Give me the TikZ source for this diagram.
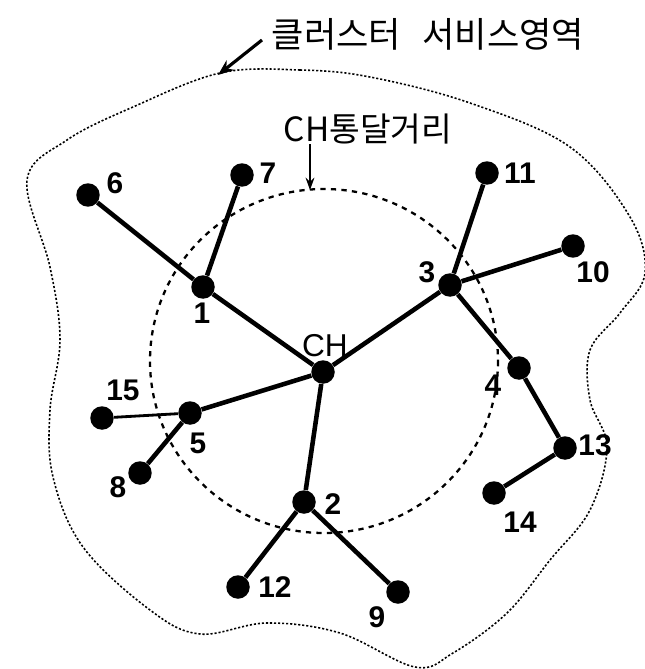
\documentclass[tikz,border=0pt]{standalone}
\usepackage{fontspec}
\setmainfont{Liberation Sans}
\newfontfamily\krfont{Noto Sans CJK KR}
\usetikzlibrary{arrows.meta}

\begin{document}
\begin{tikzpicture}[
    x=0.02cm, y=-0.02cm,
    every node/.style={font=\fontsize{17}{20}\selectfont\bfseries},
    dot/.style={circle, fill=black, inner sep=0pt, minimum size=0.47cm},
    numlbl/.style={inner sep=0pt},
    link/.style={line width=2.6pt},
    krtext/.style={inner sep=0pt, font=\krfont\fontsize{19}{22}\selectfont}
]
    \useasboundingbox (0,0) rectangle (645,669);

    % Cluster service area (irregular dotted boundary)
    \draw[line width=0.9pt, dash pattern=on 1.2pt off 1.1pt] plot[smooth cycle, tension=0.6] coordinates {
        (220,73) (300,70) (370,77) (470,103) (570,147) (630,217) (645,273)
        (620,313) (590,350) (590,400) (607,447) (590,510) (550,560) (507,613)
        (453,653) (415,667) (340,633) (267,623) (200,634) (150,610) (83,547)
        (53,477) (50,410) (60,340) (50,267) (27,180) (67,140) (133,107)};

    % CH transmission range (dashed circle)
    \draw[line width=1.3pt, dash pattern=on 3pt off 3pt] (324,361) ellipse (174 and 172);

    % Cluster head and members
    \node[dot] (ch) at (323,372) {};
    \node[dot] (n1) at (203,287) {};
    \node[dot] (n2) at (304,502) {};
    \node[dot] (n3) at (450,285) {};
    \node[dot] (n4) at (519,368) {};
    \node[dot] (n5) at (190,413) {};
    \node[dot] (n6) at (88,195) {};
    \node[dot] (n7) at (242,175) {};
    \node[dot] (n8) at (140,473) {};
    \node[dot] (n9) at (398,592) {};
    \node[dot] (n10) at (573,246) {};
    \node[dot] (n11) at (487,173) {};
    \node[dot] (n12) at (238,587) {};
    \node[dot] (n13) at (565,448) {};
    \node[dot] (n14) at (494,493) {};
    \node[dot] (n15) at (102,418) {};

    % Links
    \draw[link] (ch) -- (n1);
    \draw[link] (n1) -- (n6);
    \draw[link] (n1) -- (n7);
    \draw[link] (ch) -- (n3);
    \draw[link] (n3) -- (n11);
    \draw[link] (n3) -- (n10);
    \draw[link] (n3) -- (n4);
    \draw[link] (n4) -- (n13);
    \draw[link] (n13) -- (n14);
    \draw[link] (ch) -- (n5);
    \draw[line width=1.6pt] (n5) -- (n15);
    \draw[link] (n5) -- (n8);
    \draw[link] (ch) -- (n2);
    \draw[link] (n2) -- (n12);
    \draw[link] (n2) -- (n9);

    % Node labels
    \node[numlbl, font=\fontsize{18}{21}\selectfont] (lch) at (325,346) {CH};
    \node[numlbl] (l1) at (202,313) {1};
    \node[numlbl] (l2) at (333,504) {2};
    \node[numlbl] (l3) at (427,272) {3};
    \node[numlbl] (l4) at (493,385) {4};
    \node[numlbl] (l5) at (198,443) {5};
    \node[numlbl] (l6) at (115,183) {6};
    \node[numlbl] (l7) at (268,173) {7};
    \node[numlbl] (l8) at (118,487) {8};
    \node[numlbl] (l9) at (377,617) {9};
    \node[numlbl] (l10) at (593,272) {10};
    \node[numlbl] (l11) at (520,173) {11};
    \node[numlbl] (l12) at (275,587) {12};
    \node[numlbl] (l13) at (595,445) {13};
    \node[numlbl] (l14) at (520,522) {14};
    \node[numlbl] (l15) at (123,390) {15};

    % Callouts
    \node[krtext, font=\krfont\fontsize{20}{23}\selectfont] (area) at (428,34) {클러스터\hspace{0.6em}서비스영역};
    \coordinate (areatip) at (218,75);
    \draw[line width=1.8pt, -{Stealth[length=9pt, width=7pt]}] (262,40) -- (areatip);

    \node[krtext] (range) at (368,129) {CH통달거리};
    \coordinate (rangetip) at (310,190);
    \draw[line width=1.1pt, -{Stealth[length=7pt, width=5pt]}] (310,144) -- (rangetip);

\end{tikzpicture}
\end{document}
